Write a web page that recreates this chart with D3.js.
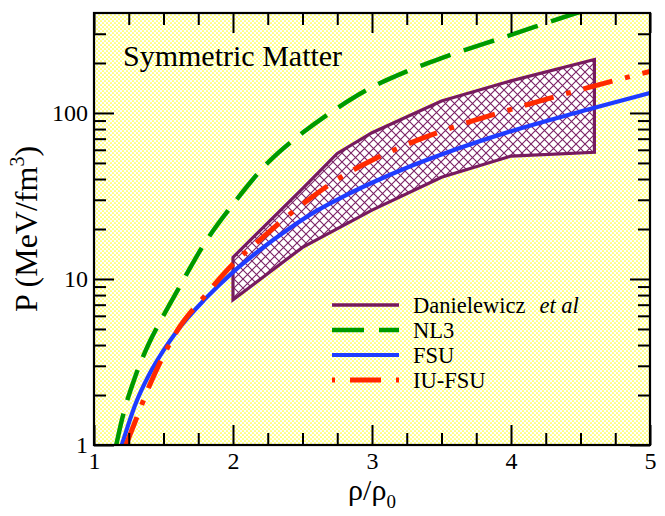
<!DOCTYPE html>
<html>
<head>
<meta charset="utf-8">
<script src="https://cdn.jsdelivr.net/npm/d3@7"></script>
<style>
  body { margin: 0; background: #fff; }
  svg { display: block; }
  text { font-family: "Liberation Serif", "Times New Roman", serif; fill: #000; }
</style>
</head>
<body>
<svg id="chart" width="665" height="516"></svg>
<script>
// values: [rho/rho0, P in MeV/fm^3]
const bandUpper = [[2, 13.5], [2.5, 35], [2.75, 57], [3, 76], [3.5, 118], [4, 156], [4.6, 210]];
const bandLower = [[2, 7.5], [2.5, 15.5], [3, 26], [3.5, 41], [4, 55], [4.6, 58]];

const nl3 = [[1.16, 1], [1.2, 1.41], [1.3, 2.63], [1.4, 4.17], [1.5, 6.03], [1.6, 8.51], [1.8, 16.6],
  [2.0, 28.2], [2.25, 50.1], [2.5, 75.9], [2.75, 107], [3.0, 143], [3.25, 178], [3.5, 214],
  [4.0, 295], [4.5, 407], [4.7, 457]];
const fsu = [[1.2, 1], [1.3, 1.78], [1.4, 2.69], [1.5, 3.72], [1.6, 4.9], [1.8, 7.59], [2.0, 11.0],
  [2.2, 15.1], [2.4, 20.0], [2.6, 25.7], [2.8, 31.6], [3.0, 38.0], [3.25, 46.8], [3.5, 56.2],
  [4.0, 77.6], [4.5, 102], [5.0, 132]];
const iufsu = [[1.23, 1], [1.3, 1.41], [1.4, 2.29], [1.5, 3.47], [1.6, 4.9], [1.8, 7.94], [2.0, 12.3],
  [2.2, 17.4], [2.5, 28.2], [2.8, 42.2], [3.0, 51.9], [3.25, 64.6], [3.5, 77.6], [4.0, 105],
  [4.5, 138], [5.0, 178]];

const xMajor = [1, 2, 3, 4, 5];
const xMinor = d3.range(1, 5.01, 0.25).filter(v => v % 1 !== 0);
const yMajor = [1, 10, 100];
const yMinor = [2, 3, 4, 5, 6, 7, 8, 9, 20, 30, 40, 50, 60, 70, 80, 90, 200, 300];

const legendLabels = ['Danielewicz', 'NL3', 'FSU', 'IU-FSU'];

const svg = d3.select('#chart');
const padL = 94, padR = 650, padT = 13, padB = 445;

const x = d3.scaleLinear().domain([1, 5]).range([padL, padR]);
const y = d3.scaleLog().domain([1, 400]).range([padB, padT]);

const defs = svg.append('defs');

// yellow dotted background
const dots = defs.append('pattern')
  .attr('id', 'dots').attr('patternUnits', 'userSpaceOnUse')
  .attr('width', 4).attr('height', 4);
dots.append('rect').attr('width', 4).attr('height', 4).attr('fill', '#fff');
dots.append('circle').attr('cx', 1).attr('cy', 1).attr('r', 0.85).attr('fill', '#ffff20');
dots.append('circle').attr('cx', 3).attr('cy', 3).attr('r', 0.85).attr('fill', '#ffff20');

// cross hatch for the flow band
const hatch = defs.append('pattern')
  .attr('id', 'hatch').attr('patternUnits', 'userSpaceOnUse')
  .attr('width', 9).attr('height', 9);
hatch.append('rect').attr('width', 9).attr('height', 9).attr('fill', '#fff');
hatch.append('path')
  .attr('d', 'M0,0L9,9M9,0L0,9')
  .attr('stroke', '#7a2064').attr('stroke-width', 1.1);

defs.append('clipPath').attr('id', 'clip')
  .append('rect').attr('x', padL).attr('y', padT)
  .attr('width', padR - padL).attr('height', padB - padT);

svg.append('rect')
  .attr('x', padL).attr('y', padT)
  .attr('width', padR - padL).attr('height', padB - padT)
  .attr('fill', 'url(#dots)');

const plot = svg.append('g').attr('clip-path', 'url(#clip)');

// Danielewicz band
const bandPts = bandUpper.concat(bandLower.slice().reverse());
plot.append('path')
  .attr('d', d3.line().x(d => x(d[0])).y(d => y(d[1]))(bandPts) + 'Z')
  .attr('fill', 'url(#hatch)')
  .attr('stroke', '#771b5f')
  .attr('stroke-width', 3.2)
  .attr('stroke-linejoin', 'miter');

const line = d3.line()
  .x(d => x(d[0]))
  .y(d => y(d[1]))
  .curve(d3.curveMonotoneX);

plot.append('path').datum(nl3)
  .attr('d', line).attr('fill', 'none')
  .attr('stroke', '#009a00').attr('stroke-width', 4.5)
  .attr('stroke-dasharray', '32 14');

plot.append('path').datum(fsu)
  .attr('d', line).attr('fill', 'none')
  .attr('stroke', '#1f3cff').attr('stroke-width', 4.2);

plot.append('path').datum(iufsu)
  .attr('d', line).attr('fill', 'none')
  .attr('stroke', '#ff2a00').attr('stroke-width', 5)
  .attr('stroke-dasharray', '30 13 5 13');

// axes, ticks point inward on all four sides
function styleAxis(g) {
  g.select('.domain').remove();
  g.selectAll('line').attr('stroke', '#000').attr('stroke-width', 2);
  g.selectAll('text').attr('font-size', 24)
    .attr('font-family', '"Liberation Serif", "Times New Roman", serif');
}

svg.append('g').attr('transform', `translate(0,${padB})`)
  .call(d3.axisBottom(x).tickValues(xMajor).tickSize(-20).tickPadding(7).tickFormat(d3.format('d')))
  .call(styleAxis);
svg.append('g').attr('transform', `translate(0,${padB})`)
  .call(d3.axisBottom(x).tickValues(xMinor).tickSize(-12).tickFormat(''))
  .call(styleAxis);
svg.append('g').attr('transform', `translate(0,${padT})`)
  .call(d3.axisTop(x).tickValues(xMajor).tickSize(-20).tickFormat(''))
  .call(styleAxis);
svg.append('g').attr('transform', `translate(0,${padT})`)
  .call(d3.axisTop(x).tickValues(xMinor).tickSize(-12).tickFormat(''))
  .call(styleAxis);

svg.append('g').attr('transform', `translate(${padL},0)`)
  .call(d3.axisLeft(y).tickValues(yMajor).tickSize(-20).tickPadding(6).tickFormat(d3.format('d')))
  .call(styleAxis);
svg.append('g').attr('transform', `translate(${padL},0)`)
  .call(d3.axisLeft(y).tickValues(yMinor).tickSize(-12).tickFormat(''))
  .call(styleAxis);
svg.append('g').attr('transform', `translate(${padR},0)`)
  .call(d3.axisRight(y).tickValues(yMajor).tickSize(-20).tickFormat(''))
  .call(styleAxis);
svg.append('g').attr('transform', `translate(${padR},0)`)
  .call(d3.axisRight(y).tickValues(yMinor).tickSize(-12).tickFormat(''))
  .call(styleAxis);

svg.append('rect')
  .attr('x', padL).attr('y', padT)
  .attr('width', padR - padL).attr('height', padB - padT)
  .attr('fill', 'none').attr('stroke', '#000').attr('stroke-width', 2.2);

// title inside the frame
svg.append('text')
  .attr('x', 123).attr('y', 66)
  .attr('font-size', 30)
  .text('Symmetric Matter');

// axis labels
const xLab = svg.append('text')
  .attr('x', (padL + padR) / 2).attr('y', 500)
  .attr('text-anchor', 'middle')
  .attr('font-size', 30);
xLab.append('tspan').text('ρ/ρ');
xLab.append('tspan').attr('font-size', 19).attr('dy', 8).text('0');

const yLab = svg.append('text')
  .attr('transform', `translate(37,${(padT + padB) / 2}) rotate(-90)`)
  .attr('text-anchor', 'middle')
  .attr('font-size', 32);
yLab.append('tspan').text('P (MeV/fm');
yLab.append('tspan').attr('font-size', 20).attr('dy', -13).text('3');
yLab.append('tspan').attr('dy', 13).text(')');

// legend
const legendStyles = [
  { color: '#771b5f', width: 3.5, dash: null },
  { color: '#009a00', width: 4.5, dash: '32 15' },
  { color: '#1f3cff', width: 4.2, dash: null },
  { color: '#ff2a00', width: 5, dash: '3 15 31 15' }
];

const legend = svg.append('g');
legendLabels.forEach((label, i) => {
  const cy = 305 + i * 25;
  const st = legendStyles[i];
  legend.append('line')
    .attr('x1', 332).attr('x2', 399)
    .attr('y1', cy).attr('y2', cy)
    .attr('stroke', st.color).attr('stroke-width', st.width)
    .attr('stroke-dasharray', st.dash);
  const t = legend.append('text')
    .attr('x', 413).attr('y', cy + 8)
    .attr('font-size', 22.5)
    .text(label);
  if (i === 0) {
    t.append('tspan').attr('dx', 14).attr('font-style', 'italic').text('et al');
  }
});
</script>
</body>
</html>
